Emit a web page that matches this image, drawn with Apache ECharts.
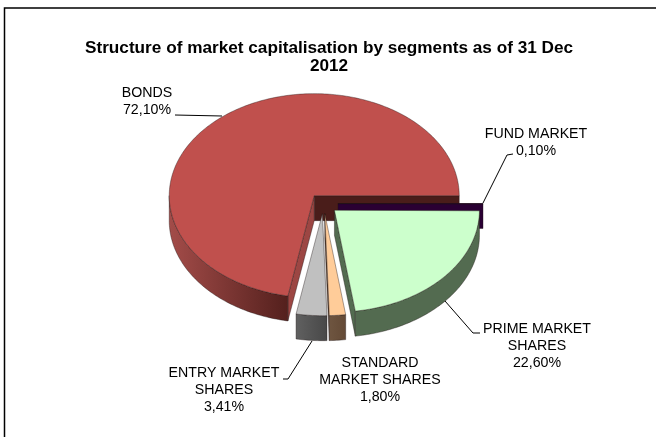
<!DOCTYPE html>
<html>
<head>
<meta charset="utf-8">
<title>Market capitalisation</title>
<script src="https://cdn.jsdelivr.net/npm/echarts@6/dist/echarts.min.js"></script>
<style>
    html, body {margin: 0; padding: 0; background: #fff;}
    #chart {width: 656px; height: 437px;}
</style>
</head>
<body>
<div id="chart"></div>
<script>
// values in %, clockwise from 3 o'clock
const categories = ['FUND MARKET', 'PRIME MARKET SHARES', 'STANDARD MARKET SHARES', 'ENTRY MARKET SHARES', 'BONDS'];
const shares = [0.10, 22.60, 1.80, 3.41, 72.10];
const shareLabels = ['0,10%', '22,60%', '1,80%', '3,41%', '72,10%'];

// fake 3d pie settings
const centerX = 323.5, centerY = 203.5;
const radiusX = 145, radiusY = 102, depth = 25, explode = 0.1;
const topColors = ['#2a0033', '#ccffcc', '#ffcc99', '#c0c0c0', '#c0504d'];
const rimLeft = ['#2a0033', '#536b50', '#6e5540', '#606060', '#a34c49'];
const rimRight = ['#2a0033', '#536b50', '#644a36', '#484848', '#54201d'];
const drawOrder = [4, 0, 1, 3, 2];

const total = shares.reduce((a, b) => a + b, 0);
let running = 0;
const slices = shares.map(v => {
    let from = running / total * Math.PI * 2;
    running += v;
    return {from: from, to: running / total * Math.PI * 2};
});

const renderSlice = (params, api) => {
    let i = api.value(0);
    let s = slices[i];
    let mid = (s.from + s.to) / 2;
    let ax = centerX + Math.cos(mid) * radiusX * explode;
    let ay = centerY + Math.sin(mid) * radiusY * explode;
    let pt = a => [ax + Math.cos(a) * radiusX, ay + Math.sin(a) * radiusY];
    let arc = (a, b) => {
        let n = Math.max(2, Math.ceil((b - a) * 60));
        let out = [];
        for (let k = 0; k <= n; k++) out.push(pt(a + (b - a) * k / n));
        return out;
    };
    let down = p => [p[0], p[1] + depth];
    let line = {stroke: 'rgba(30,20,20,0.65)', lineWidth: 0.6};
    let children = [];
    let wall = (a, color) => {
        let p = pt(a);
        children.push({type: 'polygon', shape: {points: [[ax, ay], p, down(p), [ax, ay + depth]]},
            style: Object.assign({fill: color}, line)});
    };
    // cut faces first, only the ones facing the viewer
    if (i === 4) {
        wall(s.to, '#4a1d1a');
        wall(s.from, '#9c4643');
    } else if (i === 0) {
        wall(s.from, topColors[0]);
    } else if (i === 1 || i === 2) {
        wall(s.to, rimRight[i]);
    }
    // outer rim, only the front half is visible
    let rimFrom = Math.max(s.from, 0), rimTo = Math.min(s.to, Math.PI);
    if (rimTo > rimFrom && i !== 0) {
        let edge = arc(rimFrom, rimTo);
        let xs = edge.map(p => p[0]);
        let x0 = Math.min.apply(null, xs), x1 = Math.max.apply(null, xs);
        children.push({type: 'polygon',
            shape: {points: edge.concat(edge.map(down).reverse())},
            style: Object.assign({
                fill: new echarts.graphic.LinearGradient(x0, 0, x1, 0, [
                    {offset: 0, color: rimLeft[i]},
                    {offset: 1, color: rimRight[i]}
                ], true)
            }, line)});
    }
    children.push({type: 'polygon',
        shape: {points: [[ax, ay]].concat(arc(s.from, s.to))},
        style: Object.assign({fill: topColors[i]}, line)});
    return {type: 'group', children: children};
};

// leader lines and text placement
const labelBoxes = [
    {x: 536, y: 126, leader: [[483, 203], [507, 155], [513, 154]]},
    {x: 537, y: 321, leader: [[445, 301], [473, 333], [480, 333]]},
    {x: 380, y: 355, leader: null},
    {x: 224, y: 365, leader: [[312, 341], [288, 379], [283, 379]]},
    {x: 147, y: 85, leader: [[222, 116], [175, 115]]}
];
const labelLines = ['FUND MARKET', 'PRIME MARKET\nSHARES', 'STANDARD\nMARKET SHARES', 'ENTRY MARKET\nSHARES', 'BONDS'];

const graphics = [{
    type: 'rect',
    silent: true,
    shape: {x: 4.5, y: 8, width: 660, height: 440},
    style: {fill: 'none', stroke: '#000', lineWidth: 1.5}
}];
labelBoxes.forEach((b, i) => {
    if (b.leader) {
        graphics.push({type: 'polyline', z: 10, shape: {points: b.leader},
            style: {stroke: '#000', lineWidth: 1, fill: 'none'}});
    }
    graphics.push({type: 'text', z: 11, x: b.x, y: b.y, style: {
        text: labelLines[i] + '\n' + shareLabels[i],
        fill: '#000', align: 'center', verticalAlign: 'top',
        font: '14.2px "Liberation Sans", Arial, sans-serif', lineHeight: 17
    }});
});

let myChart = echarts.init(document.getElementById('chart'), null, {renderer: 'canvas'});
myChart.setOption({
    animation: false,
    backgroundColor: '#fff',
    title: {
        text: 'Structure of market capitalisation by segments as of 31 Dec\n2012',
        left: 324, top: 34, textAlign: 'center',
        textStyle: {fontFamily: '"Liberation Sans", Arial, sans-serif', fontSize: 17.2, fontWeight: 'bold', color: '#000', lineHeight: 18}
    },
    xAxis: {show: false, min: 0, max: 1},
    yAxis: {show: false, min: 0, max: 1},
    grid: {left: 0, right: 0, top: 0, bottom: 0},
    series: [{
        type: 'custom',
        coordinateSystem: 'none',
        renderItem: renderSlice,
        data: drawOrder.map(i => [i, shares[i]]),
        silent: true
    }],
    graphic: graphics
});
</script>
</body>
</html>
